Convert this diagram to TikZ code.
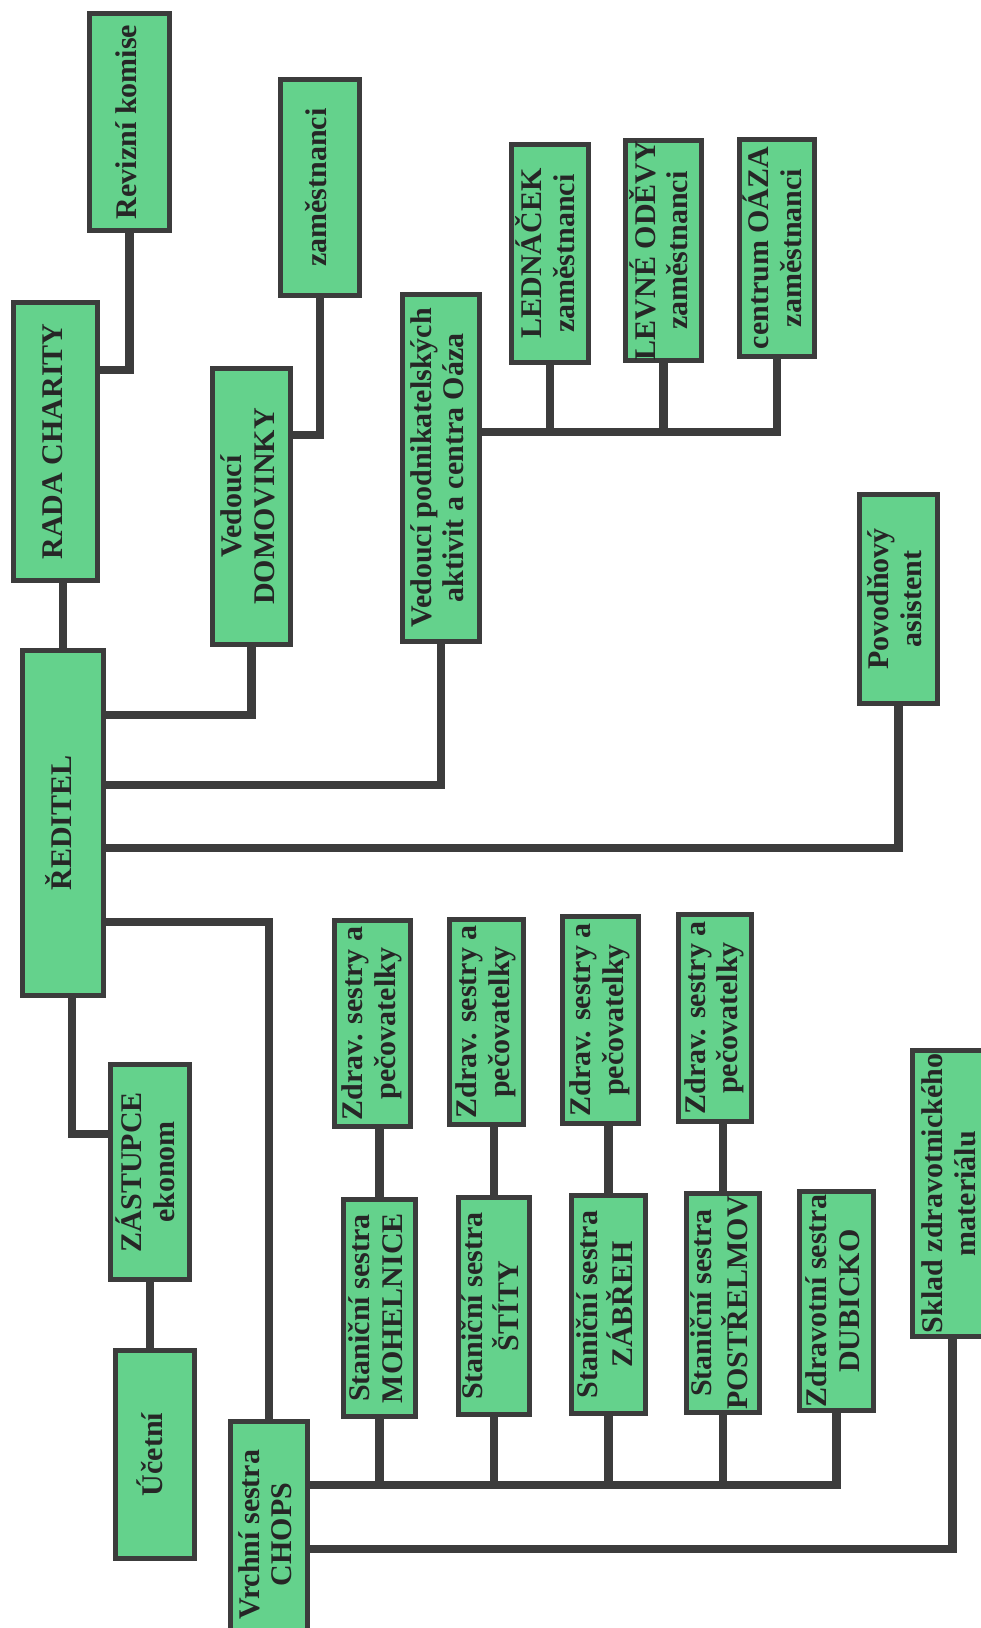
\documentclass[tikz,border=0pt]{standalone}
\usepackage{fontspec}
\setmainfont{Liberation Serif}
\definecolor{boxgreen}{HTML}{64D28C}
\definecolor{linegray}{HTML}{3C3C3C}
\definecolor{txtgray}{HTML}{262626}
\newcommand{\rtxt}[1]{\rotatebox{90}{\begin{tabular}{@{}c@{}}#1\end{tabular}}}
\pgfdeclarelayer{paper}
\pgfdeclarelayer{links}
\pgfsetlayers{paper,links,main}
\tikzset{
  orgbox/.style={rectangle, draw=linegray, line width=5pt, fill=boxgreen, inner sep=0pt,
    font=\fontsize{30}{32.5}\selectfont\bfseries, text=txtgray},
  link/.style={draw=linegray, line width=8.5pt, line cap=rect, line join=miter}
}
\begin{document}
\begin{tikzpicture}[x=1pt,y=-1pt]
\useasboundingbox (0,0) rectangle (981,1628);
\begin{pgfonlayer}{paper}
  \fill[white] (0,0) rectangle (981,1628);
\end{pgfonlayer}
\clip (0,0) rectangle (981,1628);

% top branch
\node[orgbox, minimum width=80pt, minimum height=217pt] (rev) at (129.5,122) {\rtxt{Revizní komise}};
\node[orgbox, minimum width=79pt, minimum height=216pt] (zam) at (320,187.5) {\rtxt{zaměstnanci}};
\node[orgbox, minimum width=84pt, minimum height=278pt] (rada) at (55.5,441.5) {\rtxt{RADA CHARITY}};
\node[orgbox, minimum width=78pt, minimum height=276pt] (domov) at (251.5,506.5) {\rtxt{Vedoucí\\DOMOVINKY}};
\node[orgbox, minimum width=77pt, minimum height=347pt] (podn) at (441,468) {\rtxt{Vedoucí podnikatelských\\aktivit a centra Oáza}};
\node[orgbox, minimum width=77pt, minimum height=218pt] (led) at (550,253.5) {\rtxt{LEDNÁČEK\\zaměstnanci}};
\node[orgbox, minimum width=76pt, minimum height=216pt] (lev) at (663.5,250.5) {\rtxt{LEVNÉ ODĚVY\\zaměstnanci}};
\node[orgbox, minimum width=75pt, minimum height=217pt] (oaza) at (777,248) {\rtxt{centrum OÁZA\\zaměstnanci}};
\node[orgbox, minimum width=78pt, minimum height=209pt] (povod) at (898.5,599) {\rtxt{Povodňový\\asistent}};

% director
\node[orgbox, minimum width=81pt, minimum height=345pt] (red) at (63,823) {\rtxt{ŘEDITEL}};

% nurses
\node[orgbox, minimum width=76pt, minimum height=206pt] (zdr1) at (372.5,1023.5) {\rtxt{Zdrav. sestry a\\pečovatelky}};
\node[orgbox, minimum width=74pt, minimum height=205pt] (zdr2) at (486.5,1022) {\rtxt{Zdrav. sestry a\\pečovatelky}};
\node[orgbox, minimum width=76pt, minimum height=207pt] (zdr3) at (600.5,1020) {\rtxt{Zdrav. sestry a\\pečovatelky}};
\node[orgbox, minimum width=73pt, minimum height=207pt] (zdr4) at (715,1018) {\rtxt{Zdrav. sestry a\\pečovatelky}};
\node[orgbox, minimum width=72pt, minimum height=217pt] (moh) at (379.5,1308) {\rtxt{Staniční sestra\\MOHELNICE}};
\node[orgbox, minimum width=71pt, minimum height=217pt] (sti) at (494,1306) {\rtxt{Staniční sestra\\ŠTÍTY}};
\node[orgbox, minimum width=74pt, minimum height=218pt] (zab) at (608.5,1304.5) {\rtxt{Staniční sestra\\ZÁBŘEH}};
\node[orgbox, minimum width=73pt, minimum height=219pt] (pos) at (723,1303) {\rtxt{Staniční sestra\\POSTŘELMOV}};
\node[orgbox, minimum width=74pt, minimum height=219pt] (dub) at (836.5,1301) {\rtxt{Zdravotní sestra\\DUBICKO}};
\node[orgbox, minimum width=80pt, minimum height=286pt] (sklad) at (952.5,1193.5) {\rtxt{Sklad zdravotnického\\materiálu}};
\node[orgbox, minimum width=79pt, minimum height=215pt] (zast) at (150,1172) {\rtxt{ZÁSTUPCE\\ekonom}};
\node[orgbox, minimum width=79pt, minimum height=208pt] (ucet) at (155,1454.5) {\rtxt{Účetní}};
\node[orgbox, minimum width=77pt, minimum height=226pt] (vrch) at (269,1534.5) {\rtxt{Vrchní sestra\\CHOPS}};

\begin{pgfonlayer}{links}
  \draw[link] (red.north) -- (red.north |- rada.south);
  \draw[link] (rev.south) |- (rada.east |- 0,370);
  \draw[link] (zam.south) |- (domov.east |- 0,435);
  \draw[link] (domov.south) |- (red.east |- 0,715);
  \draw[link] (podn.south) |- (red.east |- 0,785);
  \draw[link] (povod.south) |- (red.east |- 0,848);
  \draw[link] (red.east |- 0,922) -| (vrch.north);
  \draw[link] ([xshift=9pt]red.south) |- (zast.west |- 0,1134);
  \draw[link] (zast.south) -- (zast.south |- ucet.north);
  % business branch
  \draw[link] (podn.east |- 0,432) -| (oaza.south);
  \draw[link] (led.south) -- (led.south |- 0,432);
  \draw[link] (lev.south) -- (lev.south |- 0,432);
  % nurses
  \draw[link] (moh.north) -- (moh.north |- zdr1.south);
  \draw[link] (sti.north) -- (sti.north |- zdr2.south);
  \draw[link] (zab.north) -- (zab.north |- zdr3.south);
  \draw[link] (pos.north) -- (pos.north |- zdr4.south);
  \draw[link] (vrch.east |- 0,1485) -| (dub.south);
  \draw[link] (moh.south) -- (moh.south |- 0,1485);
  \draw[link] (sti.south) -- (sti.south |- 0,1485);
  \draw[link] (zab.south) -- (zab.south |- 0,1485);
  \draw[link] (pos.south) -- (pos.south |- 0,1485);
  \draw[link] (sklad.south) |- (vrch.east |- 0,1549);
\end{pgfonlayer}
\end{tikzpicture}
\end{document}
